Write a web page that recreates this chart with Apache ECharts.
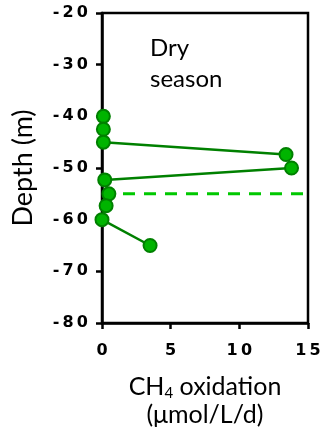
<!DOCTYPE html>
<html><head><meta charset="utf-8">
<script src="https://cdn.jsdelivr.net/npm/echarts@6/dist/echarts.min.js"></script>
<style>html,body{margin:0;padding:0;background:#fff}#c{width:321px;height:434px}</style>
</head><body><div id="c"></div>
<script>
const oxidation = [0.1, 0.1, 0.1, 13.4, 13.8, 0.2, 0.5, 0.3, 0.0, 3.5];
const depth = [-40, -42.5, -45, -47.4, -50, -52.3, -55, -57.3, -60, -65];
const dashedDepth = -55;
const dashedX = [0, 15.3];
const xTicks = [0, 5, 10, 15];
const yTicks = [-80, -70, -60, -50, -40, -30, -20];

const spaced = v => String(v).split('').join('\u2009');
const chart = echarts.init(document.getElementById('c'), null, {renderer: 'canvas'});
const tickFont = {fontFamily: 'DejaVu Sans', fontWeight: 'bold', fontSize: 16, color: '#000'};
chart.setOption({
  animation: false,
  grid: {left: 102, right: 13, top: 13, bottom: 111, containLabel: false, outerBoundsMode: 'none', show: true, borderColor: '#000', borderWidth: 2.5, backgroundColor: 'transparent'},
  xAxis: {
    type: 'value', min: xTicks[0], max: xTicks[xTicks.length-1], interval: 5,
    axisLine: {onZero: false, lineStyle: {color: '#000', width: 2.5}},
    axisTick: {show: true, length: 6, lineStyle: {color: '#000', width: 2.5}},
    splitLine: {show: false},
    axisLabel: Object.assign({margin: 20, formatter: spaced}, tickFont),
    name: '{a|CH}{sub|4}{a| oxidation}\n{a|(μmol/L/d)}',
    nameLocation: 'middle', nameGap: 50,
    nameTextStyle: {
      rich: {
        a: {fontFamily: 'Lato', fontSize: 25, color: '#000', lineHeight: 28},
        sub: {fontFamily: 'Lato', fontSize: 15, color: '#000', verticalAlign: 'bottom', padding: [12,0,0,0], lineHeight: 28}
      }
    }
  },
  yAxis: {
    type: 'value', min: yTicks[0], max: yTicks[yTicks.length-1], interval: 10,
    axisLine: {onZero: false, lineStyle: {color: '#000', width: 2.5}},
    axisTick: {show: true, length: 6, lineStyle: {color: '#000', width: 2.5}},
    splitLine: {show: false},
    axisLabel: Object.assign({margin: 14, formatter: spaced}, tickFont),
    name: 'Depth (m)', nameLocation: 'middle', nameGap: 65, nameRotate: 90,
    nameTextStyle: {fontFamily: 'Lato', fontSize: 27, color: '#000'}
  },
  graphic: [{
    type: 'text', left: 150, top: 33,
    style: {text: 'Dry\nseason', fontFamily: 'Lato', fontSize: 24, lineHeight: 31, fill: '#000'}
  }],
  series: [
    {
      type: 'line', data: dashedX.map(x => [x, dashedDepth]), symbol: 'none', clip: false, z: 1,
      lineStyle: {color: '#00c800', width: 3, type: [12, 9]}
    },
    {
      type: 'line', data: oxidation.map((x, i) => [x, depth[i]]), symbol: 'circle', symbolSize: 13, clip: false, z: 3,
      lineStyle: {color: '#008000', width: 2.5},
      itemStyle: {color: '#00b400', borderColor: '#008000', borderWidth: 2}
    }
  ]
});
</script></body></html>
